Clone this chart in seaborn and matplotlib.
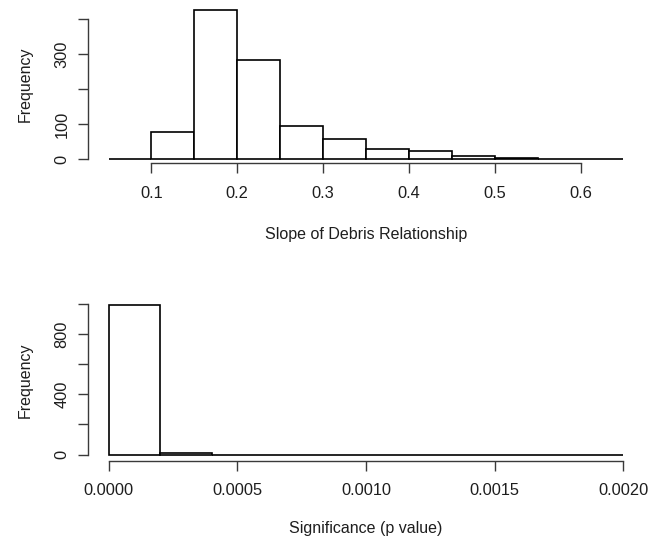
import matplotlib
matplotlib.use("Agg")
import matplotlib.pyplot as plt
import seaborn as sns
import numpy as np

# ---- data ----
slope_edges = [0.05, 0.10, 0.15, 0.20, 0.25, 0.30, 0.35, 0.40, 0.45, 0.50, 0.55, 0.60, 0.65]
slope_counts = [2, 77, 424, 283, 96, 57, 30, 24, 9, 3, 1, 2]
slope_xticks = [0.1, 0.2, 0.3, 0.4, 0.5, 0.6]
slope_xticklabels = ["0.1", "0.2", "0.3", "0.4", "0.5", "0.6"]
slope_yticks = [0, 100, 200, 300, 400]
slope_yticklabels = ["0", "100", "", "300", ""]

p_edges = [0.0, 0.0002, 0.0004, 0.0006, 0.0008, 0.0010, 0.0012, 0.0014, 0.0016, 0.0018, 0.0020]
p_counts = [992, 8, 0, 0, 0, 0, 0, 0, 0, 0]
p_xticks = [0.0, 0.0005, 0.0010, 0.0015, 0.0020]
p_xticklabels = ["0.0000", "0.0005", "0.0010", "0.0015", "0.0020"]
p_yticks = [0, 200, 400, 600, 800, 1000]
p_yticklabels = ["0", "", "400", "", "800", ""]

plt.rcParams['font.family'] = ['Liberation Sans', 'DejaVu Sans']

W, H = 650, 539
fig = plt.figure(figsize=(W / 100, H / 100), dpi=100)


def rect(l, r, t, b):
    return [l / W, 1 - b / H, (r - l) / W, (b - t) / H]


AXC = "#3a3a3a"
TXC = "#1e1e1e"


def panel(pos, edges, counts, xlim, ylim, xticks, xtl, yticks, ytl, xlabel, xlab_y):
    ax = fig.add_axes(pos)
    e = np.asarray(edges)
    centers = (e[:-1] + e[1:]) / 2
    sns.histplot(x=centers, weights=counts, bins=edges, ax=ax, color="white",
                 edgecolor="black", linewidth=1.2, alpha=1, stat="count")
    ax.set_xlim(*xlim)
    ax.set_ylim(*ylim)
    for s in ["top", "right"]:
        ax.spines[s].set_visible(False)
    for s in ["left", "bottom"]:
        ax.spines[s].set_color(AXC)
        ax.spines[s].set_linewidth(1.0)
    ax.spines["left"].set_bounds(yticks[0], yticks[-1])
    ax.spines["bottom"].set_bounds(xticks[0], xticks[-1])
    ax.set_xticks(xticks)
    ax.set_xticklabels(xtl)
    ax.set_yticks(yticks)
    ax.set_yticklabels(ytl, rotation=90, va="center")
    ax.tick_params(axis="both", direction="out", length=7.5, width=1.0,
                   color=AXC, labelsize=11.8, labelcolor=TXC)
    ax.tick_params(axis="x", pad=8.5)
    ax.tick_params(axis="y", pad=6)
    ax.set_xlabel(xlabel, fontsize=11.5, color=TXC)
    ax.xaxis.set_label_coords(0.5, xlab_y)
    ax.set_ylabel("Frequency", fontsize=11.5, color=TXC)
    ax.yaxis.set_label_coords(-0.099, 0.5)
    return ax


# top panel: axes px l=88 r=644 top=4.5 bottom=163.3
top_h = 163.3 - 4.5
panel(rect(88, 644, 4.5, 163.3), slope_edges, slope_counts,
      (0.026, 0.674), (-11.4, 441), slope_xticks, slope_xticklabels,
      slope_yticks, slope_yticklabels, "Slope of Debris Relationship",
      -(226.5 - 163.3) / top_h)

bot_h = 460.5 - 299.5
panel(rect(88, 644, 299.5, 460.5), p_edges, p_counts,
      (-0.00008, 0.00208), (-39.7, 1031.7), p_xticks, p_xticklabels,
      p_yticks, p_yticklabels, "Significance (p value)",
      -(520.5 - 460.5) / bot_h)

fig.savefig("out.png", dpi=100)
